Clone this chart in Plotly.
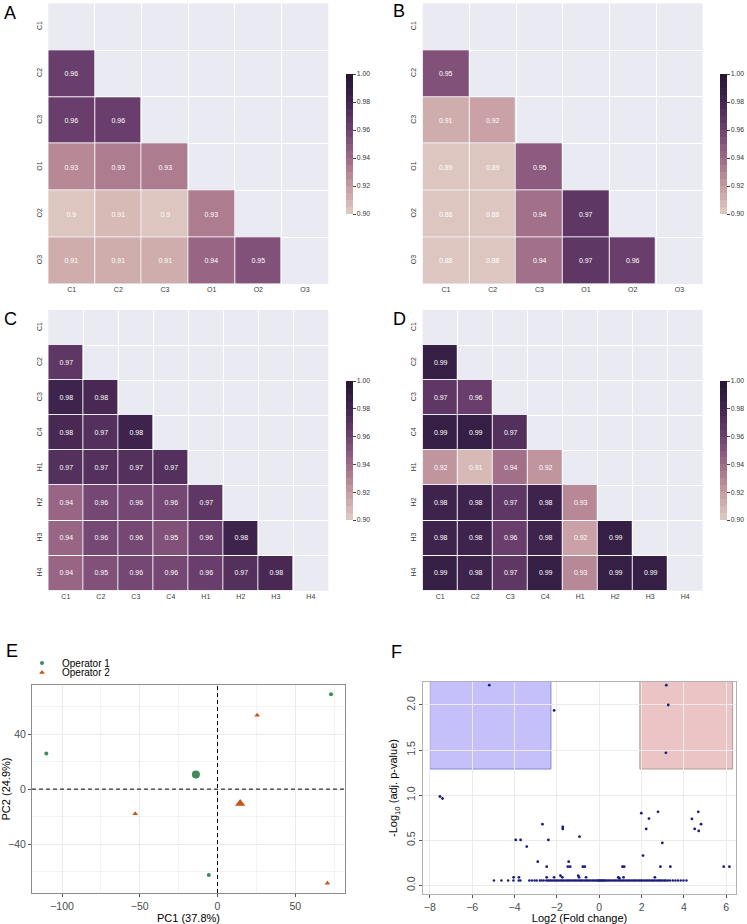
import plotly.graph_objects as go

W, H = 747, 924
FONT = "Liberation Sans, Arial, sans-serif"

# ---------------- data ----------------
labels_ab = ["C1", "C2", "C3", "O1", "O2", "O3"]
labels_cd = ["C1", "C2", "C3", "C4", "H1", "H2", "H3", "H4"]

corr_a = [
    [],
    [0.961],
    [0.960, 0.962],
    [0.927, 0.932, 0.933],
    [0.902, 0.906, 0.903, 0.932],
    [0.911, 0.911, 0.911, 0.941, 0.951],
]
corr_b = [
    [],
    [0.951],
    [0.914, 0.918],
    [0.890, 0.890, 0.949],
    [0.880, 0.880, 0.940, 0.968],
    [0.880, 0.880, 0.937, 0.968, 0.964],
]
corr_c = [
    [],
    [0.968],
    [0.982, 0.978],
    [0.978, 0.973, 0.982],
    [0.970, 0.972, 0.972, 0.972],
    [0.941, 0.958, 0.958, 0.956, 0.968],
    [0.941, 0.957, 0.957, 0.954, 0.960, 0.982],
    [0.941, 0.954, 0.956, 0.956, 0.960, 0.972, 0.978],
]
corr_d = [
    [],
    [0.988],
    [0.969, 0.963],
    [0.988, 0.988, 0.972],
    [0.921, 0.906, 0.936, 0.921],
    [0.982, 0.982, 0.969, 0.982, 0.926],
    [0.982, 0.982, 0.962, 0.982, 0.916, 0.988],
    [0.987, 0.982, 0.969, 0.989, 0.926, 0.989, 0.988],
]
cbar_ticks = [0.90, 0.92, 0.94, 0.96, 0.98, 1.00]
cbar_ticktext = ["0.90", "0.92", "0.94", "0.96", "0.98", "1.00"]

# PCA (panel E)
op1_pc1 = [-110.1, 73.0, -5.6]
op1_pc2 = [25.8, 68.8, -62.3]
op1_cent_pc1 = [-13.9]
op1_cent_pc2 = [10.6]
op2_pc1 = [-52.9, 25.5, 70.7]
op2_pc2 = [-17.9, 53.6, -68.4]
op2_cent_pc1 = [14.6]
op2_cent_pc2 = [-10.4]

# Volcano (panel F)
sig_x = [-5.19, -2.13, 3.17, 3.26, 3.15]
sig_y = [2.22, 1.94, 2.22, 2.00, 1.47]
ns_x = [-7.52, -7.40, -3.94, -3.71, -3.42, -2.68, -2.40, -2.90, -1.72, -1.72,
        -0.93, -1.44, -1.48, -1.37, -2.48, -0.77, -0.68, -1.83, -1.74, -0.99,
        -0.95, -4.04, -3.79, -2.48, -2.13, -0.62, 0.90, 0.95, 1.10, 1.18,
        1.15, 1.99, 2.35, 2.22, 2.78, 2.98, 2.07, 2.89, 3.36, 2.63,
        4.38, 4.68, 4.81, 4.51, 4.70, 5.88, 6.15]
ns_y = [0.985, 0.963, 0.504, 0.504, 0.430, 0.678, 0.504, 0.263, 0.648, 0.626,
        0.540, 0.263, 0.207, 0.207, 0.207, 0.207, 0.207, 0.107, 0.089, 0.107,
        0.089, 0.089, 0.089, 0.089, 0.089, 0.089, 0.089, 0.080, 0.207, 0.207,
        0.089, 0.800, 0.740, 0.626, 0.815, 0.470, 0.330, 0.207, 0.207, 0.089,
        0.737, 0.815, 0.678, 0.626, 0.604, 0.207, 0.207]
base_x = [-4.97, -4.62, -4.30, -4.05, -3.80, -3.72, -3.30, -3.18, -3.05, -2.95,
          -2.80, -2.72, -2.62, -2.50, -2.42, -2.35, -2.28, -2.20, -2.12, -2.05,
          -1.98, -1.90, -1.82, -1.75, -1.68, -1.60, -1.52, -1.45, -1.38, -1.30,
          -1.22, -1.15, -1.08, -1.00, -0.92, -0.85, -0.78, -0.70, -0.62, -0.55,
          -0.48, -0.40, -0.32, -0.25, -0.18, -0.10, -0.05, 0.00, 0.05, 0.10,
          0.15, 0.20, 0.25, 0.30, 0.38, 0.45, 0.52, 0.60, 0.68, 0.75,
          0.82, 0.90, 0.98, 1.05, 1.12, 1.20, 1.28, 1.35, 1.42, 1.50,
          1.58, 1.65, 1.72, 1.80, 1.88, 1.95, 2.02, 2.10, 2.18, 2.25,
          2.32, 2.40, 2.48, 2.55, 2.62, 2.70, 2.78, 2.85, 2.92, 3.00,
          3.08, 3.15, 3.25, 3.35, 3.48, 3.60, 3.72, 3.85, 3.98, 4.12]
baseline_y = 0.055
down_box_x = [-8.0, -2.28]
up_box_x = [1.92, 6.3]
sig_threshold = 1.29

# ---------------- styling helpers ----------------
def px_x(a, b):
    return [a / W, b / W]

def px_y(top, bottom):
    return [1 - bottom / H, 1 - top / H]

anchor_vals = [0.90, 0.91, 0.92, 0.93, 0.94, 0.95, 0.96, 0.97, 0.98, 0.99, 1.00]
anchor_cols = ["#e0cbc5", "#d4b3b1", "#c59ba2", "#b28192", "#9e6b87", "#88567d",
               "#6f4270", "#5a3362", "#432650", "#311d41", "#261530"]

def hex2rgb(h):
    h = h.lstrip("#")
    return [int(h[i:i + 2], 16) for i in (0, 2, 4)]

def col_at(v):
    for i in range(len(anchor_vals) - 1):
        if anchor_vals[i] <= v <= anchor_vals[i + 1]:
            t = (v - anchor_vals[i]) / (anchor_vals[i + 1] - anchor_vals[i])
            a, b = hex2rgb(anchor_cols[i]), hex2rgb(anchor_cols[i + 1])
            c = [round(a[k] + (b[k] - a[k]) * t) for k in range(3)]
            return "rgb(%d,%d,%d)" % tuple(c)
    return anchor_cols[-1]

NB = 20
colorscale = []
for i in range(NB):
    c = col_at(0.90 + (i + 0.5) * 0.10 / NB)
    colorscale.append([i / NB, c])
    colorscale.append([(i + 1) / NB, c])

def build_matrix(rows, n):
    z, t = [], []
    for i in range(n):
        zr, tr = [], []
        for j in range(n):
            if j < len(rows[i]):
                v = rows[i][j]
                zr.append(v)
                tr.append(f"{v:.2g}")
            else:
                zr.append(None)
                tr.append(" ")
        z.append(zr)
        t.append(tr)
    return z, t

fig = go.Figure()
shapes = []
annotations = []

panels = [
    ("A", corr_a, labels_ab, 1, (48.3, 328.3), (3.3, 284.0), 346, (74, 214)),
    ("B", corr_b, labels_ab, 2, (422.7, 702.7), (3.3, 284.0), 720, (74, 214)),
    ("C", corr_c, labels_cd, 3, (48.3, 328.3), (310.0, 590.7), 346, (381, 520)),
    ("D", corr_d, labels_cd, 4, (422.7, 702.7), (310.0, 590.7), 720, (381, 520)),
]

layout_axes = {}
for name, rows, labs, k, xr, yr, cbx, cby in panels:
    n = len(labs)
    z, t = build_matrix(rows, n)
    xa = "x" if k == 1 else f"x{k}"
    ya = "y" if k == 1 else f"y{k}"
    fig.add_trace(go.Heatmap(
        z=z, x=list(range(n)), y=list(range(n)), text=t, texttemplate="%{text}",
        textfont=dict(size=7, color="white", family=FONT),
        colorscale=colorscale, zmin=0.90, zmax=1.00, xgap=1, ygap=1,
        hoverinfo="skip", xaxis=xa, yaxis=ya,
        colorbar=dict(x=cbx / W, xanchor="left", xpad=0,
                      y=1 - (cby[0] + cby[1]) / 2 / H, yanchor="middle", ypad=0,
                      len=(cby[1] - cby[0]) / H, lenmode="fraction",
                      thickness=7, outlinewidth=0,
                      tickvals=cbar_ticks, ticktext=cbar_ticktext,
                      ticks="outside", ticklen=3, tickwidth=1, tickcolor="#444",
                      tickfont=dict(size=6.8, color="#333", family=FONT)),
    ))
    bounds = [i + 0.5 for i in range(n - 1)]
    axkey_x = "xaxis" if k == 1 else f"xaxis{k}"
    axkey_y = "yaxis" if k == 1 else f"yaxis{k}"
    layout_axes[axkey_x] = dict(
        domain=px_x(*xr), anchor=ya, range=[-0.5, n - 0.5], automargin=False,
        tickmode="array", tickvals=list(range(n)), ticktext=labs,
        showgrid=False, zeroline=False, showline=False, ticks="",
        tickfont=dict(size=7, color="#3a3a3a", family=FONT),
        minor=dict(tickmode="array", tickvals=bounds, showgrid=True,
                   gridcolor="white", gridwidth=1, ticks=""),
        fixedrange=True,
    )
    layout_axes[axkey_y] = dict(
        domain=px_y(*yr), anchor=xa, range=[n - 0.5, -0.5], automargin=False,
        tickmode="array", tickvals=list(range(n)), ticktext=labs, tickangle=-90,
        showgrid=False, zeroline=False, showline=False, ticks="",
        ticklabelstandoff=4,
        tickfont=dict(size=7, color="#3a3a3a", family=FONT),
        minor=dict(tickmode="array", tickvals=bounds, showgrid=True,
                   gridcolor="white", gridwidth=1, ticks=""),
        fixedrange=True,
    )
    shapes.append(dict(type="rect", xref=f"{xa} domain", yref=f"{ya} domain",
                       x0=0, x1=1, y0=0, y1=1, fillcolor="#EAEAF2",
                       line=dict(width=0), layer="below"))

# panel letters
for letter, lx, ly in [("A", 10, 13), ("B", 399, 11), ("C", 10, 319), ("D", 399, 319),
                       ("E", 12, 651), ("F", 397, 652)]:
    annotations.append(dict(text=letter, x=lx / W, y=1 - ly / H, xref="paper", yref="paper",
                            showarrow=False, xanchor="center", yanchor="middle",
                            font=dict(size=18, color="black", family=FONT)))

# ---------------- panel E: PCA ----------------
green = "#3f8a5d"
orange = "#c4561d"
fig.add_trace(go.Scatter(x=op1_pc1, y=op1_pc2, mode="markers", name="Operator 1",
                         marker=dict(color=green, size=4, symbol="circle"),
                         xaxis="x5", yaxis="y5", legend="legend", hoverinfo="skip"))
fig.add_trace(go.Scatter(x=op1_cent_pc1, y=op1_cent_pc2, mode="markers", showlegend=False,
                         marker=dict(color=green, size=8, symbol="circle"),
                         xaxis="x5", yaxis="y5", hoverinfo="skip"))
fig.add_trace(go.Scatter(x=op2_pc1, y=op2_pc2, mode="markers", name="Operator 2",
                         marker=dict(color=orange, size=5, symbol="triangle-up"),
                         xaxis="x5", yaxis="y5", legend="legend2", hoverinfo="skip"))
fig.add_trace(go.Scatter(x=op2_cent_pc1, y=op2_cent_pc2, mode="markers", showlegend=False,
                         marker=dict(color=orange, size=9, symbol="triangle-up"),
                         xaxis="x5", yaxis="y5", hoverinfo="skip"))

axis_common = dict(showline=True, mirror=True, linewidth=1, zeroline=False,
                   automargin=False,
                   ticks="outside", ticklen=3, tickwidth=1, tickcolor="#555",
                   tickfont=dict(size=10.5, color="#4d4d4d", family=FONT),
                   fixedrange=True)

layout_axes["xaxis5"] = dict(
    domain=px_x(32, 345), anchor="y5", range=[-119.3, 82.0],
    tickmode="array", tickvals=[-100, -50, 0, 50], linecolor="#8c8c8c",
    gridcolor="#ebebeb", gridwidth=1,
    minor=dict(tickmode="array", tickvals=[-125, -75, -25, 25, 75], showgrid=True,
               gridcolor="#f3f3f3", gridwidth=1, ticks=""),
    title=dict(text="PC1 (37.8%)", font=dict(size=11, color="black", family=FONT), standoff=8),
    **axis_common)
layout_axes["yaxis5"] = dict(
    domain=px_y(685, 893), anchor="x5", range=[-75.4, 75.6],
    tickmode="array", tickvals=[-40, 0, 40], linecolor="#8c8c8c",
    gridcolor="#ebebeb", gridwidth=1,
    minor=dict(tickmode="array", tickvals=[-60, -20, 20, 60], showgrid=True,
               gridcolor="#f3f3f3", gridwidth=1, ticks=""),
    title=dict(text="PC2 (24.9%)", font=dict(size=11, color="black", family=FONT), standoff=4),
    **axis_common)
shapes.append(dict(type="line", xref="x5", yref="y5 domain", x0=0, x1=0, y0=0, y1=1,
                   line=dict(color="black", width=1, dash="4px,3px")))
shapes.append(dict(type="line", xref="x5 domain", yref="y5", x0=0, x1=1, y0=0, y1=0,
                   line=dict(color="black", width=1, dash="4px,3px")))

# ---------------- panel F: volcano ----------------
navy = "#1c1c7c"
fig.add_trace(go.Scatter(x=base_x, y=[baseline_y] * len(base_x), mode="markers",
                         showlegend=False, marker=dict(color=navy, size=2.5),
                         xaxis="x6", yaxis="y6", hoverinfo="skip"))
fig.add_trace(go.Scatter(x=ns_x, y=ns_y, mode="markers", showlegend=False,
                         marker=dict(color=navy, size=2.8),
                         xaxis="x6", yaxis="y6", hoverinfo="skip"))
fig.add_trace(go.Scatter(x=sig_x, y=sig_y, mode="markers", showlegend=False,
                         marker=dict(color=navy, size=2.8),
                         xaxis="x6", yaxis="y6", hoverinfo="skip"))

shapes.append(dict(type="rect", xref="x6", yref="y6", x0=down_box_x[0], x1=down_box_x[1],
                   y0=sig_threshold, y1=3.0, fillcolor="rgba(140,130,245,0.5)",
                   line=dict(color="#8a86d8", width=1), layer="below"))
shapes.append(dict(type="rect", xref="x6", yref="y6", x0=up_box_x[0], x1=up_box_x[1],
                   y0=sig_threshold, y1=3.0, fillcolor="rgba(215,140,140,0.5)",
                   line=dict(color="#b09a9a", width=1), layer="below"))

layout_axes["xaxis6"] = dict(
    domain=px_x(423, 736), anchor="y6", range=[-8.32, 6.46],
    tickmode="array", tickvals=[-8, -6, -4, -2, 0, 2, 4, 6], linecolor="#b3b3b3",
    gridcolor="#ebebeb", gridwidth=1,
    title=dict(text="Log2 (Fold change)", font=dict(size=11, color="black", family=FONT), standoff=6),
    **axis_common)
layout_axes["yaxis6"] = dict(
    domain=px_y(682, 894), anchor="x6", range=[-0.096, 2.255],
    tickmode="array", tickvals=[0.0, 0.5, 1.0, 1.5, 2.0], tickformat=".1f",
    tickangle=-90, linecolor="#b3b3b3", gridcolor="#ebebeb", gridwidth=1,
    title=dict(text="-Log<sub>10</sub> (adj. p-value)",
               font=dict(size=11, color="black", family=FONT), standoff=4),
    **axis_common)

fig.update_layout(
    width=W, height=H, autosize=False,
    margin=dict(l=0, r=0, t=0, b=0, pad=0),
    paper_bgcolor="white", plot_bgcolor="white",
    font=dict(family=FONT, color="#333"),
    shapes=shapes, annotations=annotations,
    legend=dict(x=22 / W, xanchor="left", y=1 - 663 / H, yanchor="middle",
                bgcolor="rgba(0,0,0,0)", font=dict(size=10, color="black", family=FONT),
                borderwidth=0, tracegroupgap=0),
    legend2=dict(x=22 / W, xanchor="left", y=1 - 672.5 / H, yanchor="middle",
                 bgcolor="rgba(0,0,0,0)", font=dict(size=10, color="black", family=FONT),
                 borderwidth=0, tracegroupgap=0),
    **layout_axes,
)

fig.write_html("out.html", config={"displayModeBar": False},
               post_script="document.body.style.margin='0px';")
